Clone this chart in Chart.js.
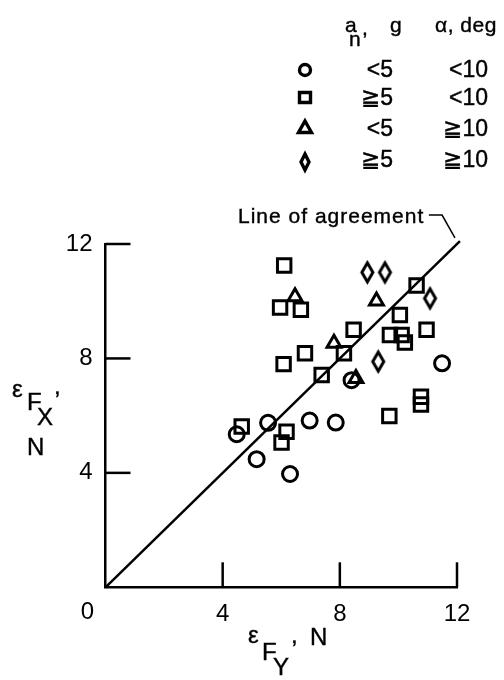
<!DOCTYPE html>
<html>
<head>
<meta charset="utf-8">
<title>Line of agreement</title>
<script src="https://cdn.jsdelivr.net/npm/chart.js@4.4.1/dist/chart.umd.min.js"></script>
<style>
  html, body { margin: 0; padding: 0; background: #fff; }
  #wrap { position: relative; width: 504px; height: 680px; overflow: hidden; }
  #chart { position: absolute; left: 0; top: 0; }
  .t { position: absolute; font-family: 'Liberation Sans', Arial, sans-serif; color: #000; line-height: 1; white-space: nowrap; -webkit-text-stroke: 0.4px #000; }
  .h { font-size: 21px; }
  .l { font-size: 23px; }
  .a { font-size: 24px; }
</style>
</head>
<body>
<div id="wrap">
  <canvas id="chart" width="504" height="680"></canvas>

  <!-- legend header -->
  <div class="t h" style="left:345px; top:14px;">a</div>
  <div class="t h" style="left:349px; top:28px;">n</div>
  <div class="t h" style="left:362px; top:17px;">,</div>
  <div class="t h" style="left:390px; top:14px;">g</div>
  <div class="t h" style="left:435px; top:14px; letter-spacing:0.5px;">&alpha;, deg</div>

  <!-- legend rows -->
  <div class="t l" style="right:111px; top:58px;">&lt;5</div>
  <div class="t l" style="right:16px; top:58px;">&lt;10</div>
  <div class="t l" style="right:111px; top:86px;">&#8807;5</div>
  <div class="t l" style="right:16px; top:86px;">&lt;10</div>
  <div class="t l" style="right:111px; top:117px;">&lt;5</div>
  <div class="t l" style="right:16px; top:117px;">&#8807;10</div>
  <div class="t l" style="right:111px; top:148px;">&#8807;5</div>
  <div class="t l" style="right:16px; top:148px;">&#8807;10</div>

  <!-- annotation -->
  <div class="t h" style="left:238px; top:205px; letter-spacing:1px;">Line of agreement</div>

  <!-- y axis title -->
  <div class="t a" style="left:12px; top:377px;">&epsilon;</div>
  <div class="t a" style="left:27px; top:390px;">F</div>
  <div class="t a" style="left:37px; top:405px;">X</div>
  <div class="t a" style="left:54px; top:374px;">,</div>
  <div class="t a" style="left:27px; top:435px;">N</div>

  <!-- x axis title -->
  <div class="t a" style="left:248px; top:623px;">&epsilon;</div>
  <div class="t a" style="left:262px; top:640px;">F</div>
  <div class="t a" style="left:273px; top:655px;">Y</div>
  <div class="t a" style="left:291px; top:623px;">,</div>
  <div class="t a" style="left:310px; top:625px;">N</div>
</div>

<script>
// a_n < 5, alpha < 10
var circleX = [4.48, 5.16, 5.55, 6.30, 6.97, 7.86, 8.40, 11.49];
var circleY = [5.35, 4.48, 5.75, 3.96, 5.83, 5.76, 7.24, 7.83];
// a_n >= 5, alpha < 10
var squareX = [4.65, 5.96, 6.10, 6.08, 6.01, 6.18, 6.67, 6.81, 7.38, 8.14, 8.47, 9.69, 9.71, 10.05, 10.11, 10.22, 10.62, 10.96, 10.77, 10.77];
var squareY = [5.62, 9.78, 11.25, 7.80, 5.06, 5.44, 9.70, 8.18, 7.42, 8.18, 9.00, 5.99, 8.82, 9.52, 8.82, 8.56, 10.55, 9.00, 6.66, 6.39];
// a_n < 5, alpha >= 10
var triangleX = [6.47, 7.80, 8.55, 9.25];
var triangleY = [10.16, 8.53, 7.30, 10.01];
// a_n >= 5, alpha >= 10
var diamondX = [8.94, 9.54, 9.31, 11.08];
var diamondY = [11.01, 11.01, 7.89, 10.10];

// line of agreement and its leader
var agreeX = [0, 12.1];
var agreeY = [0, 12.1];
var leaderX = [11.04, 11.49, 11.93];
var leaderY = [13.01, 13.01, 12.21];

var xTicks = [0, 4, 8, 12];
var yTicks = [0, 4, 8, 12];
var xTickLabels = ['0', '4', '8', '12'];
var yTickLabels = ['', '4', '8', '12'];

var ink = '#000';
var tickFont = { family: "'Liberation Sans Narrow', 'Liberation Sans', Arial, sans-serif", size: 24 };

function pts(xs, ys) {
  return xs.map(function (x, i) { return { x: x, y: ys[i] }; });
}

// tall diamond marker, the built-in rectRot is a square
function makeDiamond(w, h, lw) {
  var c = document.createElement('canvas');
  c.width = w + lw * 2;
  c.height = h + lw * 2;
  var g = c.getContext('2d');
  var cx = c.width / 2, cy = c.height / 2;
  g.strokeStyle = ink;
  g.lineWidth = lw;
  g.lineJoin = 'miter';
  g.beginPath();
  g.moveTo(cx, cy - h / 2);
  g.lineTo(cx + w / 2, cy);
  g.lineTo(cx, cy + h / 2);
  g.lineTo(cx - w / 2, cy);
  g.closePath();
  g.stroke();
  return c;
}
var diamondImg = makeDiamond(11, 19, 3);

function drawMarker(ctx, kind, x, y) {
  ctx.beginPath();
  if (kind === 'circle') {
    ctx.arc(x, y, 5.5, 0, Math.PI * 2);
  } else if (kind === 'square') {
    ctx.rect(x - 5.5, y - 5, 11, 10);
  } else if (kind === 'triangle') {
    ctx.moveTo(x, y - 7);
    ctx.lineTo(x + 6.5, y + 4.5);
    ctx.lineTo(x - 6.5, y + 4.5);
    ctx.closePath();
  } else {
    ctx.moveTo(x, y - 8);
    ctx.lineTo(x + 4, y);
    ctx.lineTo(x, y + 8);
    ctx.lineTo(x - 4, y);
    ctx.closePath();
  }
  ctx.stroke();
}

var extras = {
  id: 'extras',
  afterDraw: function (chart) {
    var ctx = chart.ctx;
    var xs = chart.scales.x, ys = chart.scales.y;
    var x0 = xs.getPixelForValue(0), y0 = ys.getPixelForValue(0);
    ctx.save();
    ctx.strokeStyle = ink;
    ctx.lineWidth = 2.5;
    // inward tick marks
    xTicks.forEach(function (v) {
      if (v === 0) return;
      var px = xs.getPixelForValue(v);
      ctx.beginPath();
      ctx.moveTo(px, y0);
      ctx.lineTo(px, y0 - 25);
      ctx.stroke();
    });
    yTicks.forEach(function (v) {
      if (v === 0) return;
      var py = ys.getPixelForValue(v);
      ctx.beginPath();
      ctx.moveTo(x0, py);
      ctx.lineTo(x0 + 25, py);
      ctx.stroke();
    });
    // shared origin label sits left of the corner
    ctx.fillStyle = ink;
    ctx.font = tickFont.size + 'px ' + tickFont.family;
    ctx.textAlign = 'center';
    ctx.textBaseline = 'alphabetic';
    ctx.fillText(xTickLabels[0], x0 - 18, y0 + 32);
    // legend symbols
    ctx.lineWidth = 3.4;
    drawMarker(ctx, 'circle', 305, 70);
    drawMarker(ctx, 'square', 305, 97.5);
    drawMarker(ctx, 'triangle', 305, 128);
    drawMarker(ctx, 'diamond', 305, 162);
    ctx.restore();
  }
};

function markerSet(xs, ys, style, radius) {
  return {
    data: pts(xs, ys),
    pointStyle: style,
    pointRadius: radius,
    pointHoverRadius: radius,
    pointBorderWidth: 3,
    pointBorderColor: ink,
    pointBackgroundColor: 'rgba(0,0,0,0)',
    showLine: false
  };
}

new Chart(document.getElementById('chart'), {
  type: 'scatter',
  data: {
    datasets: [
      markerSet(circleX, circleY, 'circle', 7.5),
      markerSet(squareX, squareY, 'rect', 9.5),
      markerSet(triangleX, triangleY, 'triangle', 8),
      markerSet(diamondX, diamondY, diamondImg, 10),
      {
        data: pts(agreeX, agreeY),
        showLine: true,
        borderColor: ink,
        borderWidth: 2.5,
        pointRadius: 0,
        clip: false
      },
      {
        data: pts(leaderX, leaderY),
        showLine: true,
        borderColor: ink,
        borderWidth: 1.5,
        pointRadius: 0,
        clip: false
      }
    ]
  },
  options: {
    responsive: false,
    animation: false,
    devicePixelRatio: 1,
    layout: { padding: { top: 244, right: 47, left: 0, bottom: 0 } },
    plugins: { legend: { display: false }, tooltip: { enabled: false }, title: { display: false } },
    scales: {
      x: {
        type: 'linear',
        min: 0,
        max: 12,
        grid: { display: false, drawTicks: false },
        border: { display: true, color: ink, width: 2.5 },
        afterBuildTicks: function (scale) {
          scale.ticks = xTicks.map(function (v) { return { value: v }; });
        },
        afterFit: function (scale) { scale.height = 92.7; },
        ticks: {
          color: ink,
          font: tickFont,
          padding: 13,
          maxRotation: 0,
          callback: function (v) {
            var i = xTicks.indexOf(v);
            return i > 0 ? xTickLabels[i] : '';
          }
        }
      },
      y: {
        type: 'linear',
        min: 0,
        max: 12,
        grid: { display: false, drawTicks: false },
        border: { display: true, color: ink, width: 2.5 },
        afterBuildTicks: function (scale) {
          scale.ticks = yTicks.map(function (v) { return { value: v }; });
        },
        afterFit: function (scale) { scale.width = 105.5; },
        ticks: {
          color: ink,
          font: tickFont,
          padding: 13,
          callback: function (v) {
            var i = yTicks.indexOf(v);
            return i >= 0 ? yTickLabels[i] : '';
          }
        }
      }
    }
  },
  plugins: [extras]
});
</script>
</body>
</html>
